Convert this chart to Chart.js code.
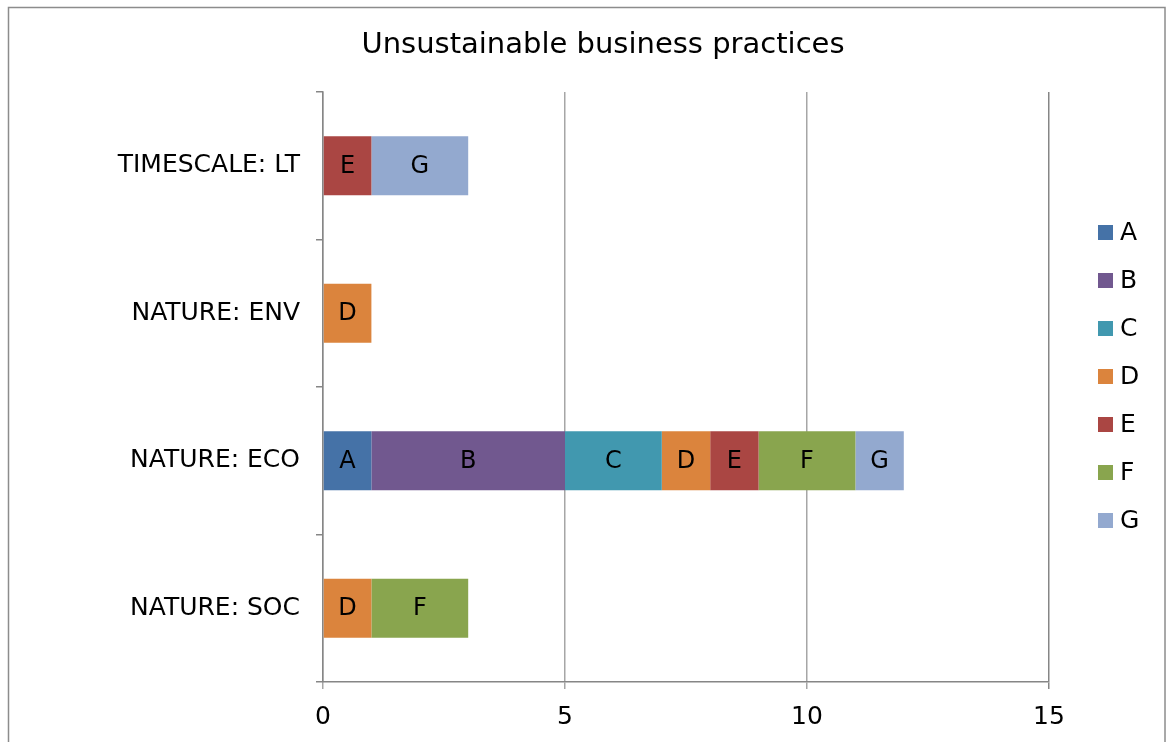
<!DOCTYPE html>
<html>
<head>
<meta charset="utf-8">
<script src="https://cdn.jsdelivr.net/npm/chart.js@4"></script>
<style>
  html, body { margin: 0; padding: 0; background: #ffffff; }
  canvas { display: block; }
</style>
</head>
<body>
<canvas id="chart" width="1167" height="742"></canvas>
<script>
const titleText = 'Unsustainable business practices';
const categories = ['TIMESCALE: LT', 'NATURE: ENV', 'NATURE: ECO', 'NATURE: SOC'];
const seriesNames = ['A', 'B', 'C', 'D', 'E', 'F', 'G'];
const seriesA = [0, 0, 1, 0];
const seriesB = [0, 0, 4, 0];
const seriesC = [0, 0, 2, 0];
const seriesD = [0, 1, 1, 1];
const seriesE = [1, 0, 1, 0];
const seriesF = [0, 0, 2, 2];
const seriesG = [2, 0, 1, 0];
const xTicks = [0, 5, 10, 15];

const seriesValues = [seriesA, seriesB, seriesC, seriesD, seriesE, seriesF, seriesG];
const seriesColors = ['#4572A7', '#71588F', '#4198AF', '#DB843D', '#AA4643', '#89A54E', '#93A9CF'];
const FONT = '"DejaVu Sans", Verdana, sans-serif';

const framePlugin = {
  id: 'frame',
  beforeDraw(chart) {
    const ctx = chart.ctx;
    ctx.save();
    ctx.fillStyle = '#ffffff';
    ctx.fillRect(0, 0, chart.width, chart.height);
    ctx.strokeStyle = '#8c8c8c';
    ctx.lineWidth = 1.5;
    ctx.strokeRect(8.5, 7.5, 1156.5, 800);
    ctx.restore();
  },
  afterDraw(chart) {
    const ctx = chart.ctx;
    ctx.save();
    // title
    ctx.fillStyle = '#000000';
    ctx.font = '29px ' + FONT;
    ctx.textAlign = 'center';
    ctx.textBaseline = 'alphabetic';
    ctx.fillText(titleText, 603, 53);
    // legend
    ctx.font = '25px ' + FONT;
    ctx.textAlign = 'left';
    ctx.textBaseline = 'middle';
    chart.data.datasets.forEach((ds, i) => {
      const cy = 232.5 + i * 48;
      ctx.fillStyle = ds.backgroundColor;
      ctx.fillRect(1098, cy - 7.5, 15, 15);
      ctx.fillStyle = '#000000';
      ctx.fillText(ds.label, 1120, cy + 1);
    });
    ctx.restore();
  }
};

const labelPlugin = {
  id: 'segLabels',
  afterDatasetsDraw(chart) {
    const ctx = chart.ctx;
    ctx.save();
    ctx.fillStyle = '#000000';
    ctx.font = '24px ' + FONT;
    ctx.textAlign = 'center';
    ctx.textBaseline = 'middle';
    chart.data.datasets.forEach((ds, di) => {
      const meta = chart.getDatasetMeta(di);
      meta.data.forEach((el, idx) => {
        const v = ds.data[idx];
        if (!v) return;
        const p = el.getCenterPoint();
        ctx.fillText(ds.label, p.x, p.y + 1);
      });
    });
    ctx.restore();
  }
};

new Chart(document.getElementById('chart'), {
  type: 'bar',
  data: {
    labels: categories,
    datasets: seriesNames.map((name, i) => ({
      label: name,
      data: seriesValues[i],
      backgroundColor: seriesColors[i],
      borderWidth: 0,
      categoryPercentage: 1.0,
      barPercentage: 0.4
    }))
  },
  options: {
    indexAxis: 'y',
    responsive: false,
    animation: false,
    devicePixelRatio: 1,
    layout: { padding: { left: 0, top: 92, right: 118, bottom: 0 } },
    plugins: {
      legend: { display: false },
      title: { display: false },
      tooltip: { enabled: false }
    },
    scales: {
      x: {
        stacked: true,
        min: 0,
        max: 15,
        afterBuildTicks(scale) { scale.ticks = xTicks.map(v => ({ value: v })); },
        afterFit(scale) { scale.height = 60; },
        border: { display: true, color: '#868686', width: 1.5 },
        grid: {
          display: true,
          drawOnChartArea: true,
          drawTicks: true,
          tickLength: 7,
          color: (c) => (c.index === 3 ? '#868686' : '#a6a6a6'),
          lineWidth: 1.5
        },
        ticks: {
          color: '#000000',
          font: { family: FONT, size: 25 },
          padding: 13,
          maxRotation: 0
        }
      },
      y: {
        stacked: true,
        afterFit(scale) { scale.width = 323; },
        border: { display: true, color: '#868686', width: 1.5 },
        grid: {
          display: true,
          offset: true,
          drawOnChartArea: false,
          drawTicks: true,
          tickLength: 7,
          color: '#868686',
          lineWidth: 1.5
        },
        ticks: {
          color: '#000000',
          font: { family: FONT, size: 25 },
          padding: 16
        }
      }
    }
  },
  plugins: [framePlugin, labelPlugin]
});
</script>
</body>
</html>
